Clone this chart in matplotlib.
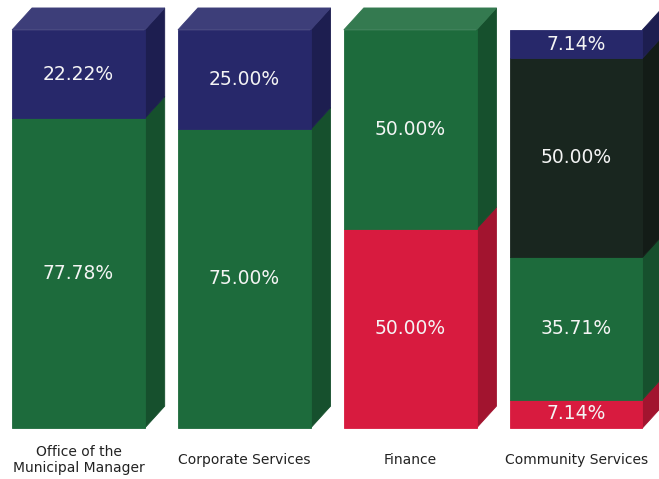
import numpy as np
import matplotlib
matplotlib.use('Agg')
import matplotlib.pyplot as plt
from matplotlib.patches import Polygon
from matplotlib.colors import to_rgb

# данные: проценты по отделам, снизу вверх
categories = ['Office of the\nMunicipal Manager', 'Corporate Services', 'Finance', 'Community Services']
red_vals = [0.0, 0.0, 50.00, 7.14]
green_vals = [77.78, 75.00, 50.00, 35.71]
dark_vals = [0.0, 0.0, 0.0, 50.00]
navy_vals = [22.22, 25.00, 0.0, 7.14]

series = [red_vals, green_vals, dark_vals, navy_vals]
colors = ['#d81b3f', '#1d6b3c', '#19261f', '#27286a']

width = 0.8
dx, dy = 0.12, 5.5  # глубина "3D"


def shade(c, k):
    r, g, b = to_rgb(c)
    return (r * k, g * k, b * k)


def lighten(c, k):
    r, g, b = to_rgb(c)
    return (r + (1 - r) * k, g + (1 - g) * k, b + (1 - b) * k)


fig = plt.figure(figsize=(6.59, 4.79), dpi=100)
ax = fig.add_axes([0, 0, 1, 1])
x = np.arange(len(categories))

bottom = np.zeros(len(categories))
for vals, col in zip(series, colors):
    vals = np.array(vals)
    m = vals > 0  # пустые сегменты не рисуем
    ax.bar(x[m], vals[m], width, bottom=bottom[m], color=col, edgecolor=col,
           linewidth=0.6, zorder=2)
    for i in range(len(x)):
        if vals[i] <= 0:
            continue
        y0 = bottom[i]
        y1 = bottom[i] + vals[i]
        xr = x[i] + width / 2
        sc = shade(col, 0.75)
        side = Polygon([(xr, y0), (xr + dx, y0 + dy), (xr + dx, y1 + dy), (xr, y1)],
                       closed=True, facecolor=sc, edgecolor=sc, linewidth=0.6, zorder=1)
        ax.add_patch(side)
        if abs(y1 - 100) < 0.01:
            xl = x[i] - width / 2
            tc = lighten(col, 0.1)
            top = Polygon([(xl, y1), (xl + dx, y1 + dy), (xr + dx, y1 + dy), (xr, y1)],
                          closed=True, facecolor=tc, edgecolor=tc, linewidth=0.6, zorder=1)
            ax.add_patch(top)
        ax.text(x[i], y0 + vals[i] / 2, '%.2f%%' % vals[i], color='#f4f4f4',
                ha='center', va='center', fontsize=13.5, zorder=3)
    bottom = bottom + vals

for i, lab in enumerate(categories):
    ax.text(x[i], -8, lab, ha='center', va='center', fontsize=10, color='#222222',
            linespacing=1.25)

ax.set_xlim(-0.473, 3.50)
ax.set_ylim(-12.8, 107.5)
ax.axis('off')

fig.savefig('out.png', dpi=100)
